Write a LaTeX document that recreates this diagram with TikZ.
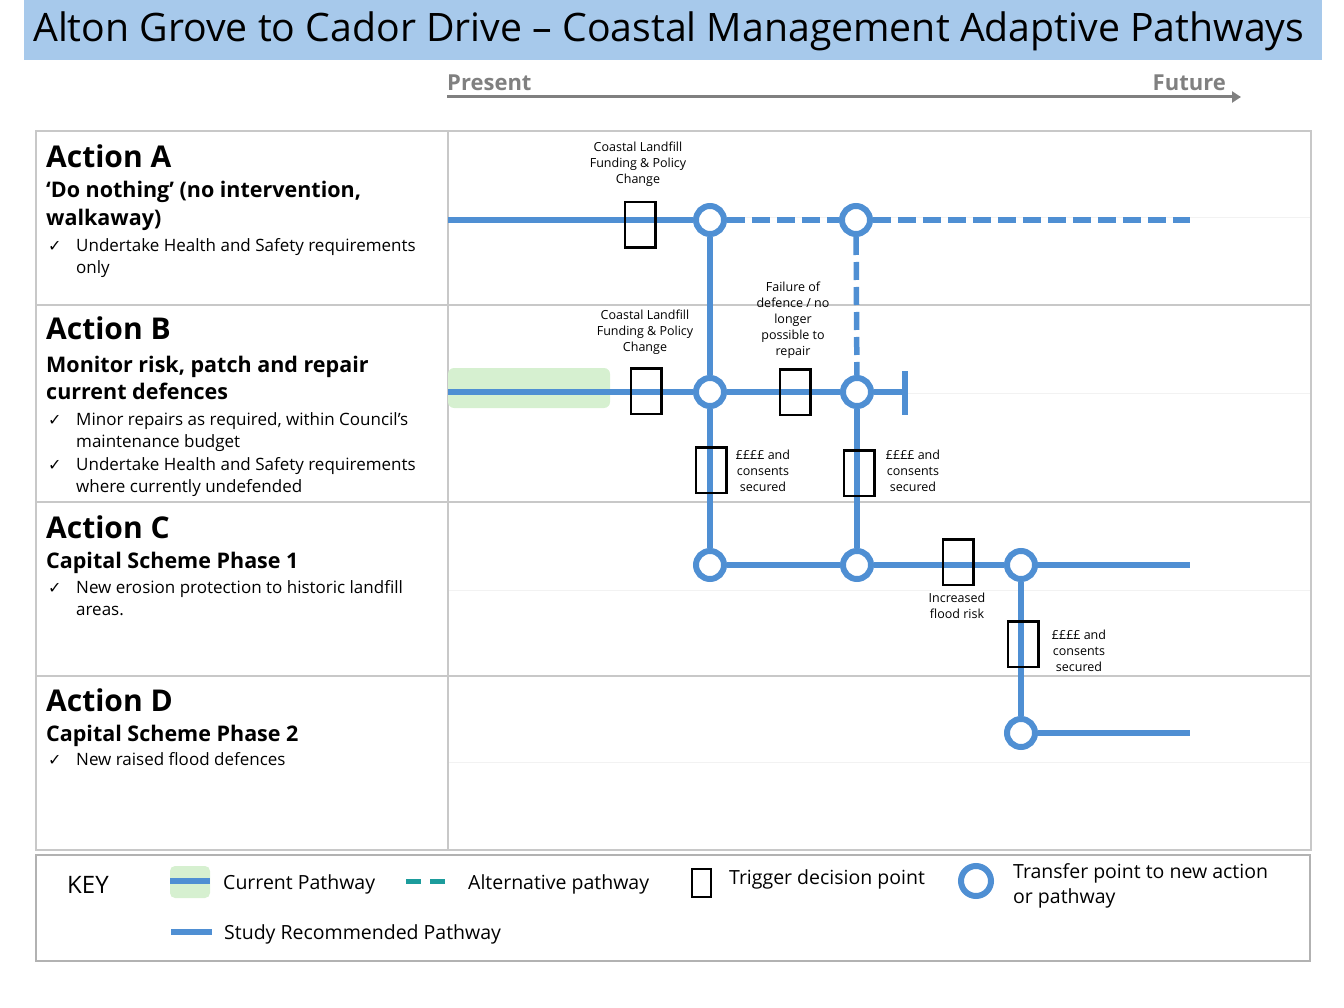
\documentclass[tikz,border=0pt]{standalone}
\usepackage{fontspec}
\setmainfont{Open Sans}
\newfontfamily\symfont{DejaVu Sans}
\usetikzlibrary{arrows.meta}
\definecolor{pblue}{HTML}{4F8FD3}
\definecolor{titlebg}{HTML}{A7C9EB}
\definecolor{curgreen}{HTML}{D6F0D0}
\definecolor{gridgray}{HTML}{C8C8C8}
\definecolor{altteal}{HTML}{1C9C9C}
\pgfdeclarelayer{bg}
\pgfsetlayers{bg,main}
\newcommand{\bulletline}[3]{%
  \node[chk] (#1c) at (48,#2) {✓};
  \node[body] (#1) at (76,#2) {#3};}
\begin{document}
\begin{tikzpicture}[x=1pt,y=-1pt,
  pw/.style={draw=pblue, line width=5.5pt},
  altpw/.style={draw=pblue, line width=5.5pt, dash pattern=on 18pt off 7pt},
  tp/.style={circle, draw=pblue, line width=6pt, fill=white, minimum size=28pt, inner sep=0pt},
  trig/.style={rectangle, draw=black, line width=2.5pt, minimum width=30.5pt, minimum height=45.5pt, inner sep=0pt},
  lbl/.style={font=\fontsize{12.5}{16}\selectfont, align=center, inner sep=0pt},
  body/.style={font=\fontsize{17}{22}\selectfont, anchor=base west, inner sep=0pt},
  chk/.style={font=\symfont\fontsize{16}{16}\selectfont, anchor=base west, inner sep=0pt},
  headA/.style={font=\bfseries\fontsize{30}{34}\selectfont, anchor=base west, inner sep=0pt},
  headB/.style={font=\bfseries\fontsize{21.5}{28}\selectfont, anchor=base west, inner sep=0pt},
  keyt/.style={font=\fontsize{19.5}{25}\selectfont, anchor=west, inner sep=0pt, align=left},
  grid/.style={draw=gridgray, line width=1.3pt},
  faint/.style={draw=black!5, line width=1pt}]
\useasboundingbox (0,0) rectangle (1344,1008);
% title
\fill[titlebg] (24,0) rectangle (1322,60);
\node[font=\fontsize{39.2}{42}\selectfont, anchor=west, inner sep=0pt] (title) at (33,31) {Alton Grove to Cador Drive – Coastal Management Adaptive Pathways};
% time axis
\node[font=\bfseries\fontsize{22}{24}\selectfont, text=black!50, anchor=base west, inner sep=0pt] (present) at (447,91) {Present};
\node[font=\bfseries\fontsize{22}{24}\selectfont, text=black!50, anchor=base east, inner sep=0pt] (future) at (1226,91) {Future};
\coordinate (axs) at (447,97);
\coordinate (axe) at (1241,97);
\draw[black!50, line width=3pt, -{Triangle[length=9pt,width=11pt]}] (axs) -- (axe);
% left text
\node[headA] (hA) at (46,168) {Action A};
\node[headB] (sA1) at (46,198) {‘Do nothing’ (no intervention,};
\node[headB] (sA2) at (46,226) {walkaway)};
\bulletline{bA1}{252}{Undertake Health and Safety requirements}
\node[body] (bA2) at (76,274) {only};
\node[headA] (hB) at (46,340) {Action B};
\node[headB] (sB1) at (46,372) {Monitor risk, patch and repair};
\node[headB] (sB2) at (46,399) {current defences};
\bulletline{bB1}{425}{Minor repairs as required, within Council’s}
\node[body] (bB2) at (76,447) {maintenance budget};
\bulletline{bB3}{470}{Undertake Health and Safety requirements}
\node[body] (bB4) at (76,492) {where currently undefended};
\node[headA] (hC) at (46,538) {Action C};
\node[headB] (sC1) at (46,568) {Capital Scheme Phase 1};
\bulletline{bC1}{593}{New erosion protection to historic landfill}
\node[body] (bC2) at (76,615) {areas.};
\node[headA] (hD) at (46,711) {Action D};
\node[headB] (sD1) at (46,741) {Capital Scheme Phase 2};
\bulletline{bD1}{765}{New raised flood defences}
% transfer points
\node[tp] (a1) at (710,220) {};
\node[tp] (a2) at (856,220) {};
\node[tp] (b1) at (710,392) {};
\node[tp] (b2) at (857,392) {};
\node[tp] (c1) at (710,565) {};
\node[tp] (c2) at (857,565) {};
\node[tp] (c3) at (1021,565) {};
\node[tp] (d1) at (1021,733) {};
% trigger points
\node[trig] (tA) at (640,225) {};
\node[trig] (tB) at (646,391) {};
\node[trig] (tBf) at (795,392) {};
\node[trig] (tv1) at (711,470) {};
\node[trig] (tv2) at (859,473) {};
\node[trig] (tC) at (958,562) {};
\node[trig] (tv3) at (1023,644) {};
% free ends
\coordinate (sA) at (448,220);
\coordinate (eA) at (1190,220);
\coordinate (sB) at (448,392);
\coordinate (bst) at (905,392);
\coordinate (bsu) at (905,371);
\coordinate (bsd) at (905,415);
\coordinate (eC) at (1190,565);
\coordinate (eD) at (1190,733);
\begin{pgfonlayer}{bg}
% grid
\draw[faint] (449,218) -- (1310,218);
\draw[faint] (449,393) -- (1310,393);
\draw[faint] (449,590) -- (1310,590);
\draw[faint] (449,762) -- (1310,762);
\draw[grid] (36,131) rectangle (1311,850);
\draw[grid] (448,131) -- (448,850);
\draw[grid] (36,305) -- (1311,305);
\draw[grid] (36,502) -- (1311,502);
\draw[grid] (36,676) -- (1311,676);
\fill[curgreen, rounded corners=6pt] (448,368) rectangle (610,408);
% pathways
\draw[pw] (sA) -- (a1);
\draw[altpw] (a1) -- (a2);
\draw[altpw] (a2) -- (eA);
\draw[pw] (a1) -- (b1);
\draw[altpw] (a2) -- (b2);
\draw[pw] (sB) -- (b1);
\draw[pw] (b1) -- (b2);
\draw[pw] (b2) -- (bst);
\draw[pw] (bsu) -- (bsd);
\draw[pw] (b1) -- (c1);
\draw[pw] (b2) -- (c2);
\draw[pw] (c1) -- (c2);
\draw[pw] (c2) -- (c3);
\draw[pw] (c3) -- (eC);
\draw[pw] (c3) -- (d1);
\draw[pw] (d1) -- (eD);
\end{pgfonlayer}
% trigger labels
\node[lbl] (lA) at (638,164) {Coastal Landfill\\Funding \& Policy\\Change};
\node[lbl] (lB) at (645,332) {Coastal Landfill\\Funding \& Policy\\Change};
\node[lbl] (lBf) at (793,320) {Failure of\\defence / no\\longer\\possible to\\repair};
\node[lbl] (lv1) at (763,471) {££££ and\\consents\\secured};
\node[lbl] (lv2) at (913,471) {££££ and\\consents\\secured};
\node[lbl] (lC) at (957,606) {Increased\\flood risk};
\node[lbl] (lv3) at (1079,651) {££££ and\\consents\\secured};
% key
\draw[draw=black!30, line width=2pt] (36,855) rectangle (1310,961);
\node[font=\fontsize{24}{26}\selectfont, anchor=west, inner sep=0pt] (keyt) at (67,885) {KEY};
\fill[curgreen, rounded corners=5pt] (170,866) rectangle (210,898);
\coordinate (kc1) at (170,881);
\coordinate (kc2) at (210,881);
\draw[pw] (kc1) -- (kc2);
\node[keyt] (kcur) at (223,884) {Current Pathway};
\coordinate (ka1) at (406,881);
\coordinate (ka2) at (450,881);
\draw[draw=altteal, line width=5pt, dash pattern=on 15pt off 9pt] (ka1) -- (ka2);
\node[keyt] (kalt) at (468,884) {Alternative pathway};
\node[rectangle, draw=black, line width=2.5pt, minimum width=19pt, minimum height=28pt, inner sep=0pt] (ktrig) at (701.5,883) {};
\node[keyt] (ktrigt) at (729,879) {Trigger decision point};
\node[tp, minimum size=30pt] (ktp) at (976,881) {};
\node[keyt] (ktpt) at (1013,886) {Transfer point to new action\\or pathway};
\coordinate (ks1) at (171,932);
\coordinate (ks2) at (212,932);
\draw[pw] (ks1) -- (ks2);
\node[keyt] (kstudy) at (224,934) {Study Recommended Pathway};
\end{tikzpicture}
\end{document}
